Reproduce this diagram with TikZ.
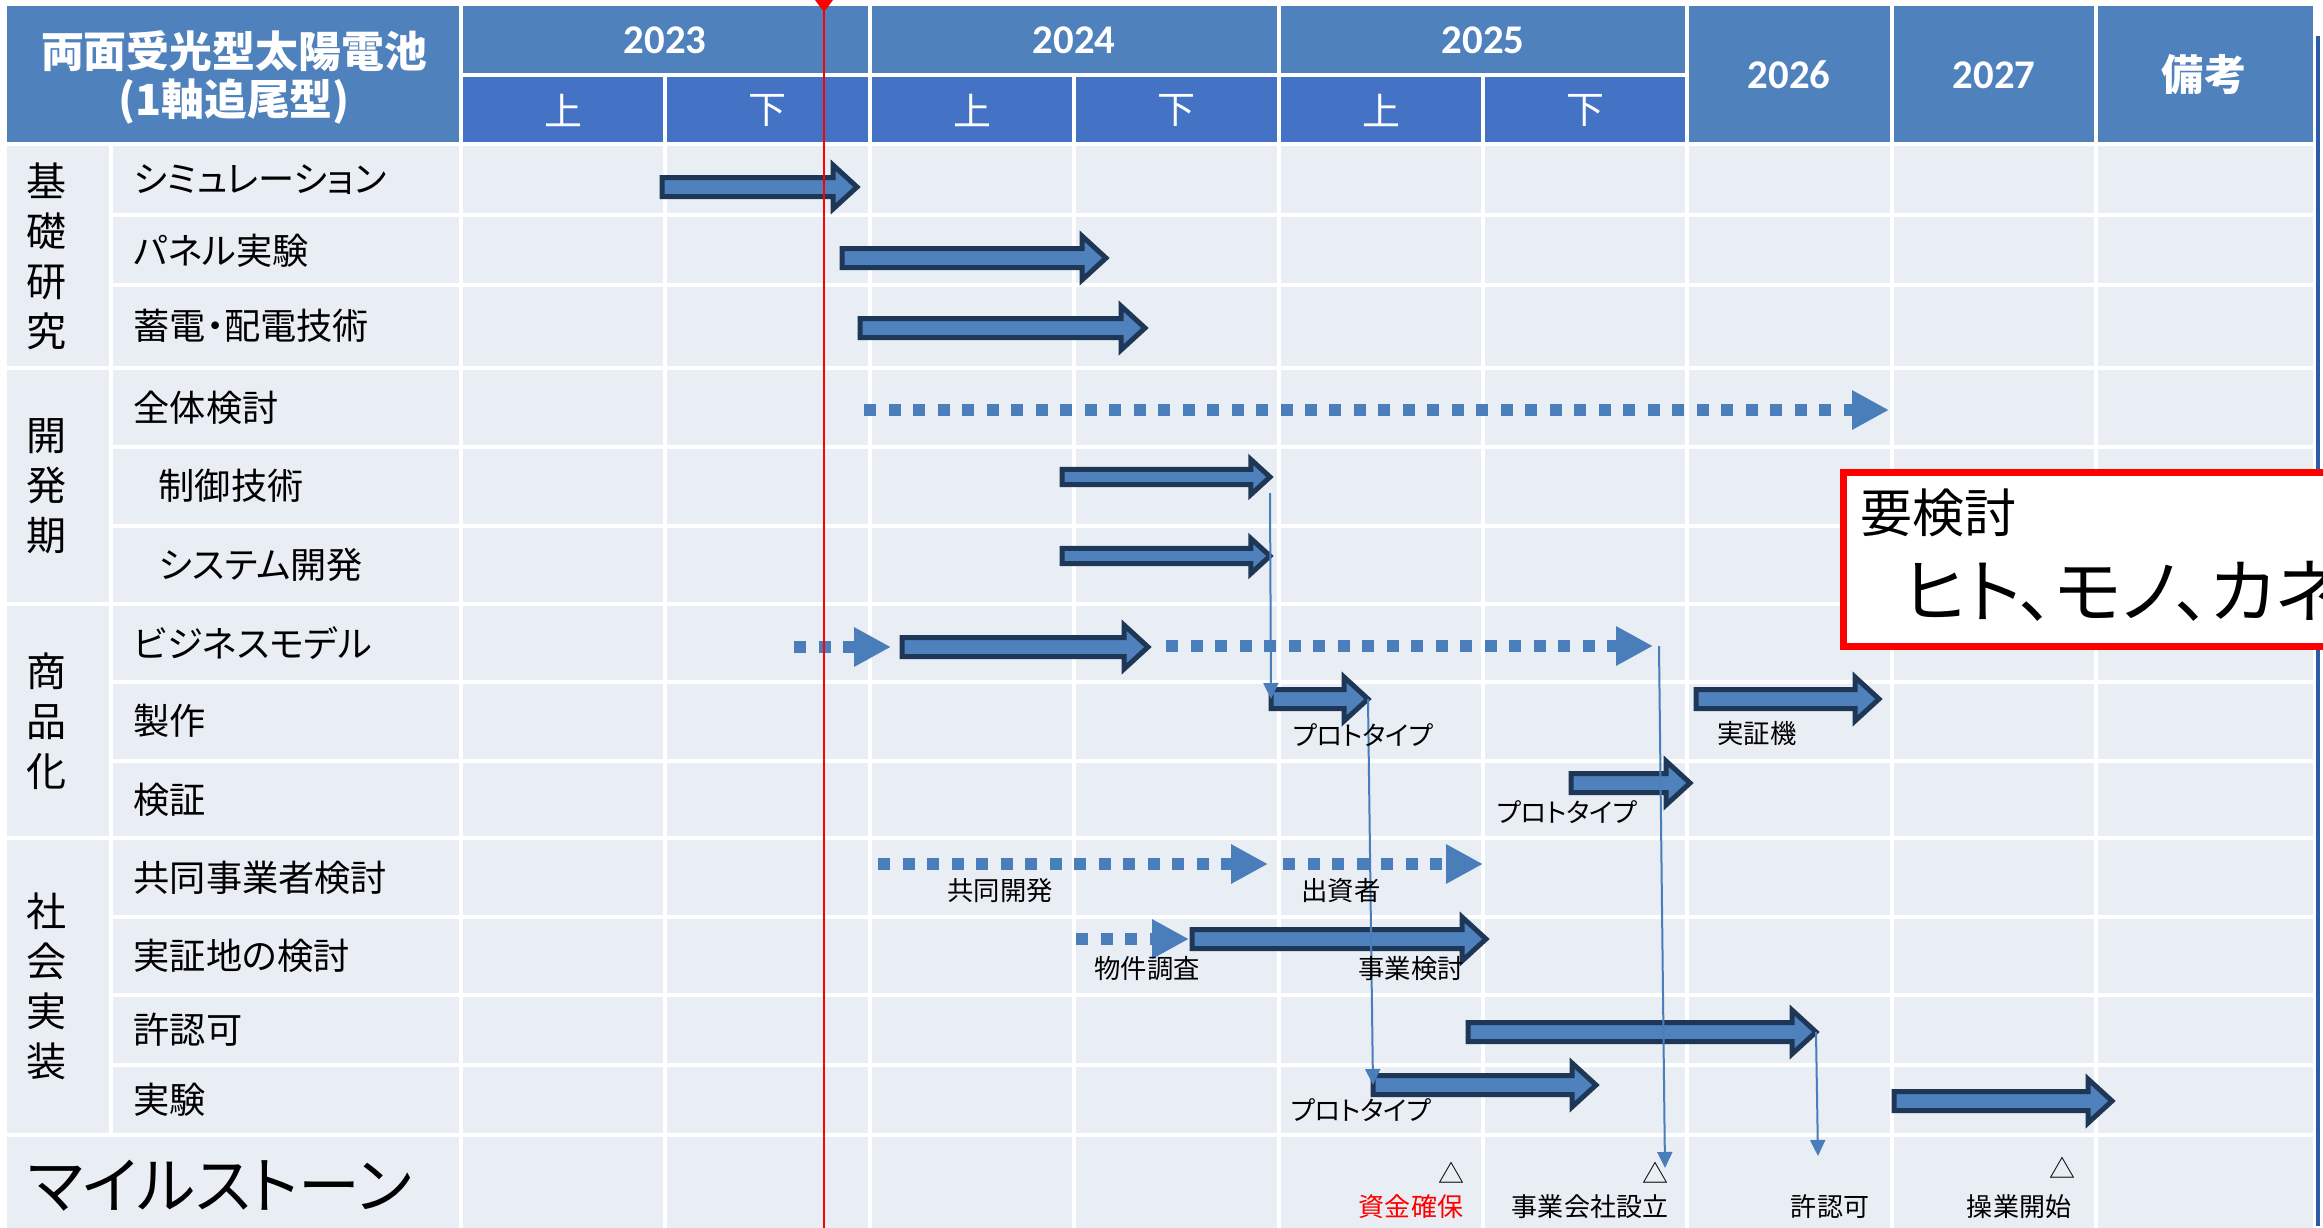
\documentclass[tikz,border=0pt]{standalone}
\usepackage{fontspec}
\setmainfont{Noto Sans CJK JP}[RawFeature=+palt]
\newfontfamily\yearfont{Carlito}
\usetikzlibrary{arrows.meta}

\definecolor{headblue}{HTML}{4F81BD}
\definecolor{halfblue}{HTML}{4472C4}
\definecolor{cellgray}{HTML}{E9EDF4}
\definecolor{barnavy}{HTML}{1F3756}
\definecolor{dotblue}{HTML}{4A7EBB}
\definecolor{sideblue}{HTML}{2A5CA8}

\newcommand{\barrow}[5]{%
  \coordinate (#1-s) at (#2,#4);
  \coordinate (#1-e) at (#3,#4);
  \draw [bar] (#2,#4-9.5*#5) -- (#3-24*#5,#4-9.5*#5) -- (#3-24*#5,#4-22*#5)
    -- (#1-e) -- (#3-24*#5,#4+22*#5) -- (#3-24*#5,#4+9.5*#5) -- (#2,#4+9.5*#5) -- cycle;}
\newcommand{\darrow}[4]{%
  \coordinate (#1-s) at (#2,#4);
  \coordinate (#1-e) at (#3,#4);
  \draw [dotbar] (#1-s) -- (#1-e);}

\begin{document}
\begin{tikzpicture}[x=0.1mm, y=-0.1mm,
    grid/.style={white, line width=0.45mm},
    bar/.style={draw=barnavy, fill=headblue, line width=0.5mm},
    dotbar/.style={dotblue, line width=1.2mm, dash pattern=on 1.2mm off 1.25mm, -{Triangle[length=3.7mm, width=3.7mm]}},
    link/.style={dotblue, line width=0.2mm, -{Triangle[length=1.6mm, width=1.5mm]}},
    item/.style={anchor=west, inner sep=0pt, font=\fontsize{10.3}{12}\selectfont},
    cat/.style={align=center, inner sep=0pt, font=\fontsize{11.4}{14.2}\selectfont},
    year/.style={text=white, inner sep=0pt, font=\yearfont\bfseries\fontsize{11.6}{13}\selectfont},
    half/.style={text=white, inner sep=0pt, font=\fontsize{10.8}{12}\selectfont},
    note/.style={inner sep=0pt, font=\fontsize{7.5}{9}\selectfont},
    mile/.style={inner sep=0pt, font=\fontsize{7.4}{9}\selectfont}]
    \clip (0,0) rectangle (2323,1228);
    \fill [white] (0,0) rectangle (2323,1228);
    \fill [cellgray] (7,144) rectangle (2313,1228);
    \fill [headblue] (7,6) rectangle (2313,144);
    \fill [halfblue] (461,75) rectangle (1687,144);

    \draw [grid] (461,75) -- (1687,75) (7,144) -- (2313,144);
    \draw [grid] (111,215) -- (2313,215) (111,285) -- (2313,285) (7,368) -- (2313,368)
      (111,447) -- (2313,447) (111,526) -- (2313,526) (7,604) -- (2313,604)
      (111,682) -- (2313,682) (111,761) -- (2313,761) (7,838) -- (2313,838)
      (111,917) -- (2313,917) (111,995) -- (2313,995) (111,1065) -- (2313,1065)
      (7,1135) -- (2313,1135);
    \draw [grid] (111,144) -- (111,1135) (461,6) -- (461,1228) (870,6) -- (870,1228)
      (1279,6) -- (1279,1228) (1687,6) -- (1687,1228) (1892,6) -- (1892,1228)
      (2096,6) -- (2096,1228) (665,75) -- (665,1228) (1074,75) -- (1074,1228)
      (1483,75) -- (1483,1228);
    \draw [sideblue, line width=0.35mm] (2318,36) -- (2318,1226);

    \node (title) at (234,77) [text=white, align=center, inner sep=0pt, font=\bfseries\fontsize{12.2}{13.7}\selectfont] {両面受光型太陽電池\\(1軸追尾型)};
    \node (y23) at (665,40) [year] {2023};
    \node (y24) at (1074,40) [year] {2024};
    \node (y25) at (1483,40) [year] {2025};
    \node (y26) at (1789,75) [year] {2026};
    \node (y27) at (1994,75) [year] {2027};
    \node (memo0) at (2204,75) [text=white, inner sep=0pt, font=\bfseries\fontsize{12}{13}\selectfont] {備考};
    \node (h1) at (563,110) [half] {上};
    \node (h2) at (767,110) [half] {下};
    \node (h3) at (972,110) [half] {上};
    \node (h4) at (1176,110) [half] {下};
    \node (h5) at (1381,110) [half] {上};
    \node (h6) at (1585,110) [half] {下};

    \node (c1) at (47,256) [cat] {基\\礎\\研\\究};
    \node (c2) at (47,486) [cat] {開\\発\\期};
    \node (c3) at (47,721) [cat] {商\\品\\化};
    \node (c4) at (47,986) [cat] {社\\会\\実\\装};

    \node (r1) at (133,180) [item] {シミュレーション};
    \node (r2) at (133,251) [item] {パネル実験};
    \node (r3) at (133,326) [item] {蓄電・配電技術};
    \node (r4) at (133,408) [item] {全体検討};
    \node (r5) at (158,486) [item] {制御技術};
    \node (r6) at (158,565) [item] {システム開発};
    \node (r7) at (133,643) [item] {ビジネスモデル};
    \node (r8) at (133,721) [item] {製作};
    \node (r9) at (133,800) [item] {検証};
    \node (r10) at (133,878) [item] {共同事業者検討};
    \node (r11) at (133,956) [item] {実証地の検討};
    \node (r12) at (133,1030) [item] {許認可};
    \node (r13) at (133,1100) [item] {実験};
    \node (mstone) at (27,1186) [anchor=west, inner sep=0pt, font=\fontsize{17.6}{19}\selectfont] {マイルストーン};

    \barrow{sim}{662}{857}{187}{1}
    \barrow{panel}{842}{1106}{258}{1}
    \barrow{store}{860}{1145}{328}{1}
    \barrow{ctrl}{1062}{1270}{477}{0.8}
    \barrow{sys}{1062}{1270}{556}{0.8}
    \barrow{biz}{902}{1148}{647}{1}
    \barrow{proto}{1271}{1368}{699}{1}
    \barrow{demo}{1696}{1879}{699}{1}
    \barrow{check}{1571}{1690}{783}{1}
    \barrow{site}{1192}{1486}{939}{1}
    \barrow{permit}{1468}{1816}{1032}{1}
    \barrow{test}{1373}{1596}{1085}{1}
    \barrow{run}{1894}{2112}{1101}{1}

    \darrow{whole}{864}{1889}{410}
    \darrow{bizpre}{794}{891}{647}
    \darrow{bizpost}{1166}{1653}{646}
    \darrow{partner}{878}{1268}{864}
    \darrow{investor}{1283}{1483}{864}
    \darrow{survey}{1076}{1189}{939}

    \coordinate (ms2) at (1665,1168);
    \coordinate (ms3) at (1818,1156);
    \draw [link] ([yshift=-1.6mm]ctrl-e) -- (proto-s);
    \draw [link] (proto-e) -- (test-s);
    \draw [link] ([xshift=0.6mm]bizpost-e) -- (ms2);
    \draw [link] (permit-e) -- (ms3);

    \node (n1) at (1363,735) [note] {プロトタイプ};
    \node (n2) at (1757,733) [note] {実証機};
    \node (n3) at (1567,812) [note] {プロトタイプ};
    \node (n4) at (1000,891) [note] {共同開発};
    \node (n5) at (1341,891) [note] {出資者};
    \node (n6) at (1147,969) [note] {物件調査};
    \node (n7) at (1411,969) [note] {事業検討};
    \node (n8) at (1361,1110) [note] {プロトタイプ};

    \node (t1) at (1451,1173) [mile] {△};
    \node (t2) at (1655,1173) [mile] {△};
    \node (t3) at (2062,1168) [mile] {△};
    \node (m1) at (1411,1207) [mile, text=red] {資金確保};
    \node (m2) at (1590,1207) [mile] {事業会社設立};
    \node (m3) at (1830,1207) [mile] {許認可};
    \node (m4) at (2019,1207) [mile] {操業開始};

    \fill [red] (815,0) -- (833,0) -- (824,12) -- cycle;
    \draw [red, line width=0.22mm] (824,0) -- (824,1228);

    \node (memo) at (1840,469) [anchor=north west, draw=red, fill=white, line width=0.7mm, minimum width=60mm, minimum height=17.4mm] {};
    \node (memo1) at (1860,513) [anchor=west, inner sep=0pt, font=\fontsize{14.8}{16}\selectfont] {要検討};
    \node (memo2) at (1903,591) [anchor=west, inner sep=0pt, font=\fontsize{20}{22}\selectfont] {ヒト、モノ、カネ};
\end{tikzpicture}
\end{document}
